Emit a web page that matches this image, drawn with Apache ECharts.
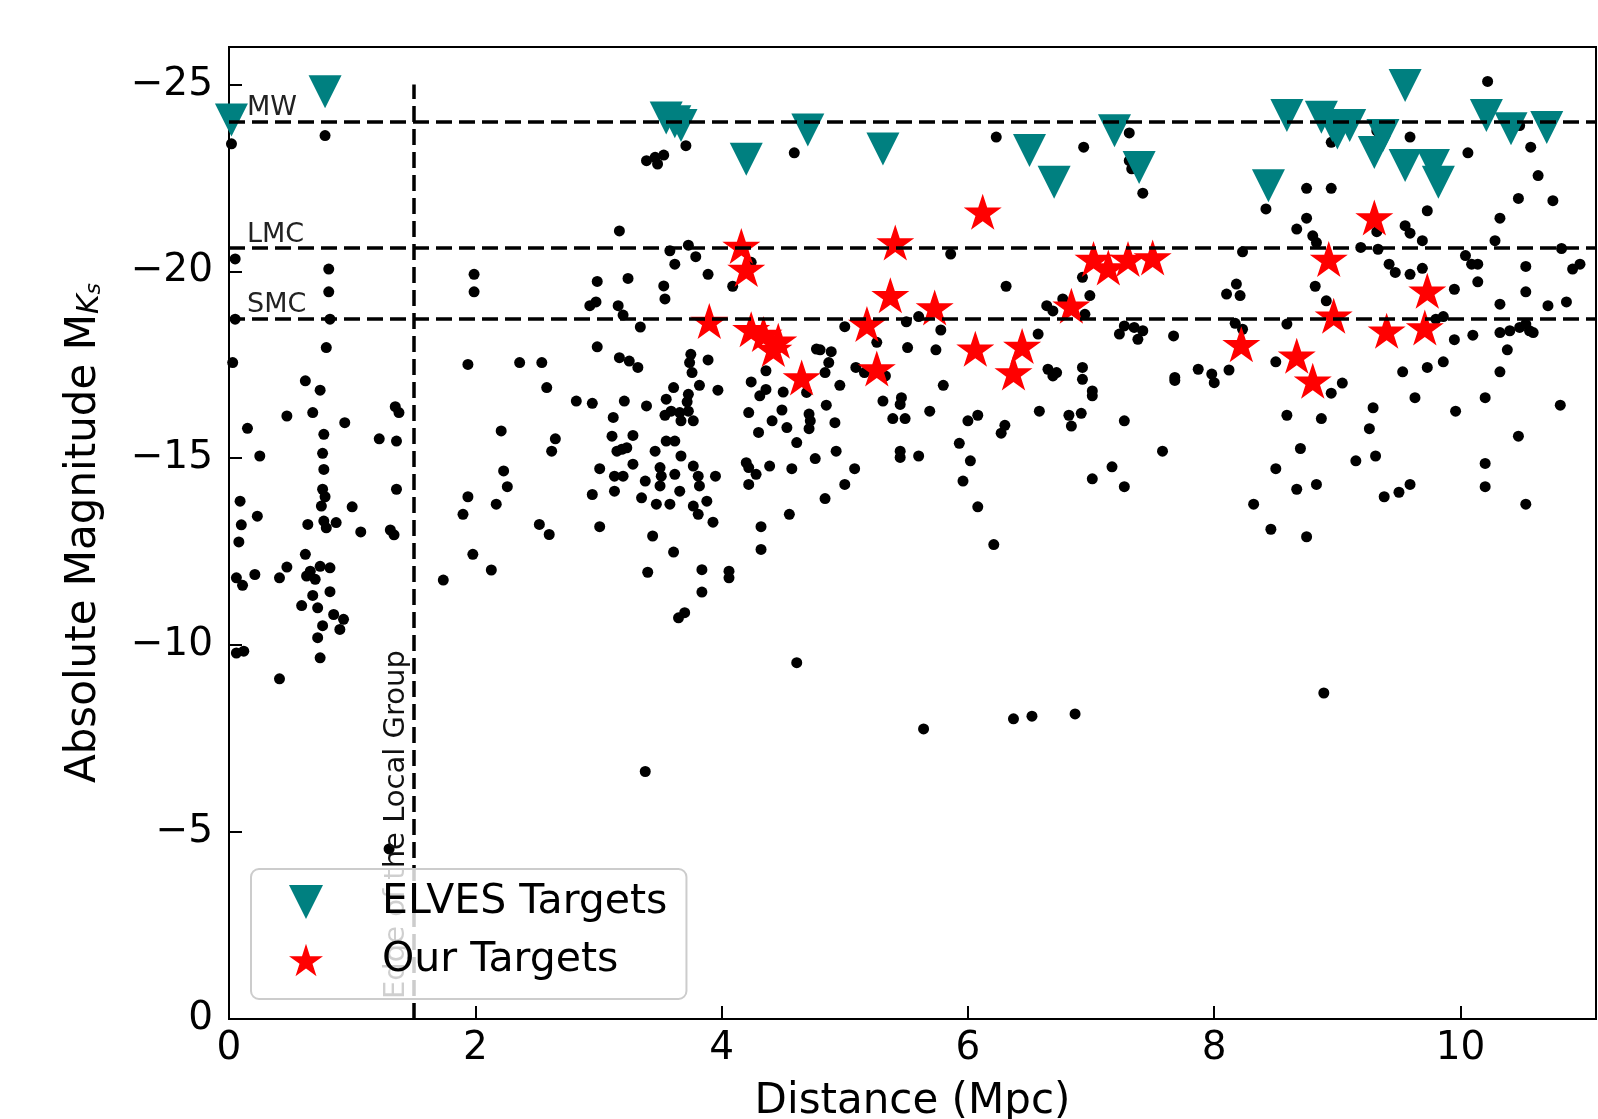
<!DOCTYPE html>
<html><head><meta charset="utf-8">
<script src="https://cdn.jsdelivr.net/npm/echarts@6/dist/echarts.min.js"></script>
<style>html,body{margin:0;padding:0;background:#fff}#c{width:1598px;height:1119px}</style>
</head><body><div id="c"></div>
<script>
const xTicks = [0, 2, 4, 6, 8, 10];
const yTicks = [-25, -20, -15, -10, -5, 0];

// [distance (Mpc), absolute magnitude M_Ks]
const catalogGalaxies = [
[0.02,-23.41],[0.05,-20.33],[0.05,-18.72],[0.03,-17.56],[0.78,-23.63],[0.81,-20.06],[0.81,-19.45],[0.82,-18.72],[0.79,-17.96],
[0.62,-17.07],[0.74,-16.82],[0.47,-16.13],[0.68,-16.22],[0.94,-15.95],[0.15,-15.80],[0.77,-15.64],[1.22,-15.52],[1.36,-15.46],[1.35,-16.38],[1.38,-16.22],[0.25,-15.06],[0.76,-15.13],[0.77,-14.70],[0.76,-14.17],[0.78,-13.97],[0.75,-13.72],[0.09,-13.85],[0.23,-13.45],[0.10,-13.22],[0.08,-12.76],[0.64,-13.23],[0.77,-13.32],[0.87,-13.28],[0.79,-13.14],[1.00,-13.70],[1.07,-13.03],[1.36,-14.17],[1.31,-13.08],[1.34,-12.95],[0.62,-12.43],[0.47,-12.09],[0.41,-11.80],[0.66,-11.98],[0.74,-12.11],[0.82,-12.07],[0.70,-11.76],[0.63,-11.85],[0.21,-11.89],[0.06,-11.80],[0.11,-11.60],[0.82,-11.43],[0.68,-11.33],[0.59,-11.06],[0.72,-11.00],[0.85,-10.82],[0.93,-10.69],[0.90,-10.42],[0.76,-10.52],[0.72,-10.20],[0.06,-9.79],[0.12,-9.84],[0.74,-9.66],[0.41,-9.10],[1.30,-4.55],
[2.21,-15.73],[2.23,-14.66],[2.26,-14.24],[2.17,-13.77],[1.94,-13.97],[1.90,-13.50],[1.98,-12.43],[2.13,-12.01],[1.74,-11.74],[2.58,-16.89],[2.82,-16.53],[2.95,-16.47],[2.65,-15.52],[2.62,-15.19],[3.01,-14.72],[2.52,-13.23],[2.60,-12.96],[2.95,-14.03],[3.01,-13.17],[3.12,-16.09],[3.11,-15.59],[3.15,-15.19],[3.13,-14.52],[3.13,-14.12],
[1.99,-19.92],[1.99,-19.45],[3.17,-21.08],[2.99,-19.73],[3.24,-19.81],[2.93,-19.08],[2.98,-19.18],[3.16,-19.08],[3.20,-18.83],[3.34,-18.51],[3.53,-19.61],[3.54,-19.26],[3.58,-20.55],[3.62,-20.19],[3.73,-20.70],[3.79,-20.39],[3.89,-19.92],[4.09,-19.60],[4.24,-20.24],
[1.94,-17.51],[2.36,-17.56],[2.54,-17.56],[2.99,-17.98],[3.17,-17.69],[3.25,-17.60],[3.32,-17.43],[3.75,-17.78],[3.74,-17.56],[3.76,-17.29],[3.89,-17.63],[3.61,-16.89],[3.73,-16.71],[3.82,-16.95],[3.97,-16.82],[4.24,-17.04],[4.36,-17.34],[4.31,-16.67],[4.36,-16.84],[4.50,-16.77],[4.77,-17.92],[3.55,-16.58],[3.72,-16.51],
[3.39,-22.96],[3.46,-23.05],[3.53,-23.11],[3.48,-22.87],[3.71,-23.36],[4.59,-23.17],
[3.21,-16.53],[3.39,-16.40],[3.59,-16.26],[3.54,-16.15],[3.66,-16.22],[3.73,-16.26],[3.67,-16.00],[3.77,-16.00],[3.28,-15.61],[3.19,-15.24],[3.23,-15.28],[3.55,-15.46],[3.62,-15.46],[3.46,-15.19],[3.67,-15.06],[3.28,-14.84],[3.20,-14.52],[3.50,-14.75],[3.51,-14.52],[3.38,-14.39],[3.50,-14.26],[3.62,-14.57],[3.66,-14.12],[3.77,-14.79],[3.81,-14.52],[3.82,-14.26],[3.77,-13.72],[3.81,-13.50],[3.88,-13.85],[3.93,-13.29],[3.35,-13.94],[3.47,-13.77],[3.58,-13.77],[3.95,-14.52],[3.44,-12.92],[3.61,-12.49],[3.40,-11.95],[3.84,-12.02],[4.06,-11.98],[4.06,-11.80],[3.84,-11.42],[3.65,-10.73],[3.70,-10.87],[4.61,-9.53],[5.64,-7.76],[6.37,-8.03],
[4.22,-16.22],[4.49,-16.29],[4.41,-16.00],[4.30,-15.69],[4.53,-15.82],[4.61,-15.42],[4.69,-16.76],[4.71,-16.18],[4.72,-16.00],[4.71,-15.79],[4.85,-16.42],[4.92,-15.95],[4.96,-16.95],[4.93,-15.19],[4.76,-14.99],[4.20,-14.88],[4.22,-14.75],[4.28,-14.57],[4.39,-14.79],[4.57,-14.72],[4.22,-14.30],[5.08,-14.72],[5.00,-14.30],[4.84,-13.92],[4.55,-13.50],[4.32,-13.17],[4.32,-12.56],[5.80,-16.95],[5.31,-16.53],[5.46,-16.62],[5.45,-16.44],[5.39,-16.06],[5.49,-16.06],[5.69,-16.26],[5.45,-15.19],[5.45,-15.02],[5.60,-15.06],[6.00,-16.00],[6.08,-16.15],[6.30,-15.88],[6.27,-15.67],[5.93,-15.40],[6.02,-14.93],[5.96,-14.39],[6.08,-13.70],[6.21,-12.69],[3.38,-6.62],
[6.23,-23.59],[6.94,-23.32],[7.31,-23.70],[7.31,-22.96],[7.33,-22.74],[7.42,-22.09],[5.86,-20.46],[6.31,-19.60],[5.00,-18.52],[5.26,-18.10],[5.50,-18.65],[5.60,-18.79],[5.78,-18.43],[5.51,-17.96],[5.74,-17.90],[4.80,-17.90],[4.89,-17.85],[4.87,-17.56],[4.84,-17.29],[5.09,-17.43],[5.16,-17.29],[5.33,-17.20],[6.57,-18.32],[6.64,-19.08],[6.69,-18.94],[6.77,-19.26],[6.93,-19.84],[6.99,-19.35],[6.95,-18.85],[7.23,-18.32],[7.27,-18.54],[7.38,-18.18],[7.42,-18.41],[7.35,-18.50],[7.67,-18.27],[7.68,-17.16],[7.68,-17.08],[7.87,-17.38],[7.98,-17.25],[8.00,-17.02],[6.65,-17.38],[6.72,-17.29],[6.69,-17.20],[6.93,-17.43],[6.93,-17.11],[7.01,-16.80],[7.01,-16.67],
[6.58,-16.26],[6.82,-16.15],[6.92,-16.20],[6.84,-15.86],[7.27,-16.00],[7.58,-15.19],[7.17,-14.77],[7.01,-14.45],[7.27,-14.24],
[9.04,-17.01],[8.95,-16.74],[8.59,-16.15],[8.87,-16.06],[9.29,-16.35],[9.26,-15.79],[9.63,-16.62],[9.96,-16.26],[10.20,-16.62],[10.81,-16.42],[10.47,-15.59],[8.70,-15.26],[8.50,-14.72],[9.15,-14.93],[9.31,-15.06],[8.83,-14.30],[8.67,-14.17],[8.32,-13.77],[8.46,-13.10],[8.75,-12.90],[9.59,-14.30],[9.50,-14.09],[9.38,-13.97],[10.20,-14.86],[10.20,-14.24],[10.53,-13.77],[8.89,-8.72],[6.52,-8.10],[6.87,-8.16],
[10.22,-25.08],[9.59,-23.59],[10.06,-23.17],[10.57,-23.32],[10.63,-22.56],[8.95,-23.45],[9.32,-23.76],[10.48,-23.90],[8.75,-22.22],[8.95,-22.22],[8.42,-21.67],[9.73,-21.62],[10.47,-21.95],[10.75,-21.89],[10.32,-21.42],[10.28,-20.82],[8.75,-21.42],[8.67,-21.13],[8.80,-20.95],[8.83,-20.77],[9.32,-21.06],[9.55,-21.22],[9.59,-21.02],[9.69,-20.82],[9.19,-20.64],[9.33,-20.59],[8.23,-20.52],[9.42,-20.19],[9.47,-19.97],[9.59,-19.92],[9.69,-20.08],[10.04,-20.42],[10.09,-20.19],[10.14,-20.19],[10.14,-19.72],[10.53,-20.13],[10.82,-20.61],[10.91,-20.06],[10.97,-20.19],[9.95,-19.52],[8.82,-19.60],[8.91,-19.21],[8.18,-19.66],[8.10,-19.39],[8.21,-19.35],[8.17,-18.61],[8.23,-18.45],[8.59,-18.59],[10.53,-19.45],[10.32,-19.12],[10.71,-19.08],[10.86,-19.18],[9.86,-18.79],[9.80,-18.72],[10.32,-18.36],[10.40,-18.41],[10.48,-18.50],[10.56,-18.41],[10.53,-18.59],[10.59,-18.36],[10.38,-17.90],[10.10,-18.29],[9.95,-18.17],[10.32,-17.31],[8.12,-17.36],[8.50,-17.58],[9.53,-17.31],[9.73,-17.43],[9.86,-17.58]
];

const elvesTargets = [
[0.02,-24.05],[0.78,-24.8],[3.55,-24.1],[3.62,-24.0],[3.67,-23.9],[4.20,-23.0],[4.70,-23.78],[5.31,-23.27],[6.50,-23.23],[6.70,-22.38],[7.19,-23.76],[7.39,-22.78],[8.44,-22.29],[8.59,-24.17],[8.87,-24.12],[8.96,-23.9],[9.10,-23.9],[9.0,-23.7],[9.55,-24.97],[9.37,-23.63],[9.30,-23.18],[9.55,-22.83],[9.78,-22.83],[9.82,-22.38],[10.21,-24.17],[10.41,-23.81],[10.70,-23.85]
];

const ourTargets = [
[4.16,-20.68],[4.20,-20.06],[3.90,-18.67],[4.24,-18.45],[4.34,-18.32],[4.46,-18.14],[4.42,-17.92],[4.65,-17.16],[5.41,-20.77],[6.12,-21.59],[5.37,-19.36],[5.18,-18.59],[5.73,-19.03],[5.26,-17.40],[6.06,-17.93],[6.44,-18.00],[6.37,-17.29],[6.84,-19.08],[7.02,-20.33],[7.14,-20.10],[7.30,-20.33],[7.50,-20.37],[8.22,-18.05],[8.67,-17.74],[8.80,-17.07],[8.93,-20.33],[8.97,-18.81],[9.30,-21.44],[9.40,-18.41],[9.73,-19.48],[9.71,-18.50]
];

const refGalaxyNames = ['MW', 'LMC', 'SMC'];
const refGalaxyMags = [-24.0, -20.62, -18.74];
const localGroupEdge = 1.5;
const localGroupLineTop = -25;
const localGroupLabel = 'Edge of the Local Group';

const FONT = 'DejaVu Sans';
const STAR = 'path://M0,-100 L-22.45,-30.9 L-95.11,-30.9 L-36.33,11.8 L-58.78,80.9 L0,38.2 L58.78,80.9 L36.33,11.8 L95.11,-30.9 L22.45,-30.9 Z';
const TRI_DOWN = 'path://M0,0 L100,0 L50,100 Z';
const fmtNum = v => (v < 0 ? '\u2212' + Math.abs(v) : String(v));
const dash = {color: '#000', width: 3.5, type: [16, 7]};

const refLines = refGalaxyNames.map((n, i) => ({
  yAxis: refGalaxyMags[i],
  label: {show: true, formatter: n, position: 'insideStartTop', distance: [18, 0],
          fontFamily: FONT, fontSize: 27, lineHeight: 27, color: '#222'}
}));
refLines.push([
  {coord: [localGroupEdge, 0],
   label: {show: true, formatter: localGroupLabel, position: 'insideStartTop', distance: [20, 3],
           fontFamily: FONT, fontSize: 29, lineHeight: 29, color: '#111'}},
  {coord: [localGroupEdge, localGroupLineTop]}
]);

const chart = echarts.init(document.getElementById('c'), null, {renderer: 'canvas'});
chart.setOption({
  animation: false,
  backgroundColor: '#fff',
  grid: {left: 229, right: 2, top: 47, bottom: 100, outerBoundsMode: 'none', containLabel: false,
         show: true, borderColor: '#000', borderWidth: 2, backgroundColor: 'transparent'},
  legend: {
    orient: 'vertical', left: 251, top: 869, zlevel: 1, z: 20,
    data: [{name: 'ELVES Targets', icon: TRI_DOWN}, {name: 'Our Targets', icon: STAR}],
    itemWidth: 34, itemHeight: 34, itemGap: 12,
    padding: [10, 19, 16, 38],
    backgroundColor: 'rgba(255,255,255,0.8)', borderColor: '#cccccc', borderWidth: 2, borderRadius: 8,
    selectedMode: false,
    itemStyle: {opacity: 1},
    textStyle: {fontFamily: FONT, fontSize: 41, lineHeight: 46, color: '#000', padding: [0, 0, 0, 54]}
  },
  xAxis: {
    type: 'value', min: 0, max: 11.1,
    name: 'Distance (Mpc)', nameLocation: 'middle', nameGap: 62,
    nameTextStyle: {fontFamily: FONT, fontSize: 42, color: '#000'},
    axisLine: {show: true, onZero: false, lineStyle: {color: '#000', width: 2}},
    axisTick: {show: true, inside: true, length: 13, lineStyle: {color: '#000', width: 2}, customValues: xTicks},
    axisLabel: {fontFamily: FONT, fontSize: 39, color: '#000', margin: 10, customValues: xTicks, formatter: fmtNum},
    splitLine: {show: false}
  },
  yAxis: {
    type: 'value', min: -26, max: 0, inverse: true,
    name: '{a|Absolute Magnitude M}{k|K}{s|s}', nameLocation: 'middle', nameGap: 124, nameRotate: 90,
    nameTextStyle: {fontFamily: FONT, color: '#000', rich: {
      a: {fontFamily: FONT, fontSize: 42, lineHeight: 52, verticalAlign: 'bottom', color: '#000'},
      k: {fontFamily: FONT, fontSize: 30, lineHeight: 34, verticalAlign: 'bottom', fontStyle: 'italic', color: '#000'},
      s: {fontFamily: FONT, fontSize: 22, lineHeight: 22, verticalAlign: 'bottom', fontStyle: 'italic', color: '#000'}
    }},
    axisLine: {show: true, onZero: false, lineStyle: {color: '#000', width: 2}},
    axisTick: {show: true, inside: true, length: 13, lineStyle: {color: '#000', width: 2}, customValues: yTicks},
    axisLabel: {fontFamily: FONT, fontSize: 39, color: '#000', margin: 16, customValues: yTicks, formatter: fmtNum},
    splitLine: {show: false}
  },
  series: [
    {type: 'scatter', name: 'refs', data: [], z: 1, silent: true,
     markLine: {silent: true, symbol: ['none', 'none'], lineStyle: dash, data: refLines, animation: false}},
    {type: 'scatter', name: 'Galaxies', data: catalogGalaxies, symbol: 'circle', symbolSize: 11,
     itemStyle: {color: '#000', opacity: 1}, z: 2, silent: true},
    {type: 'scatter', name: 'ELVES Targets', data: elvesTargets, symbol: 'triangle', symbolRotate: 180, symbolSize: 33,
     itemStyle: {color: '#008080', opacity: 1}, z: 3, silent: true},
    {type: 'scatter', name: 'Our Targets', data: ourTargets, symbol: STAR, symbolSize: [38, 36],
     itemStyle: {color: '#ff0000', opacity: 1}, z: 4, silent: true}
  ]
});
</script>
</body></html>
